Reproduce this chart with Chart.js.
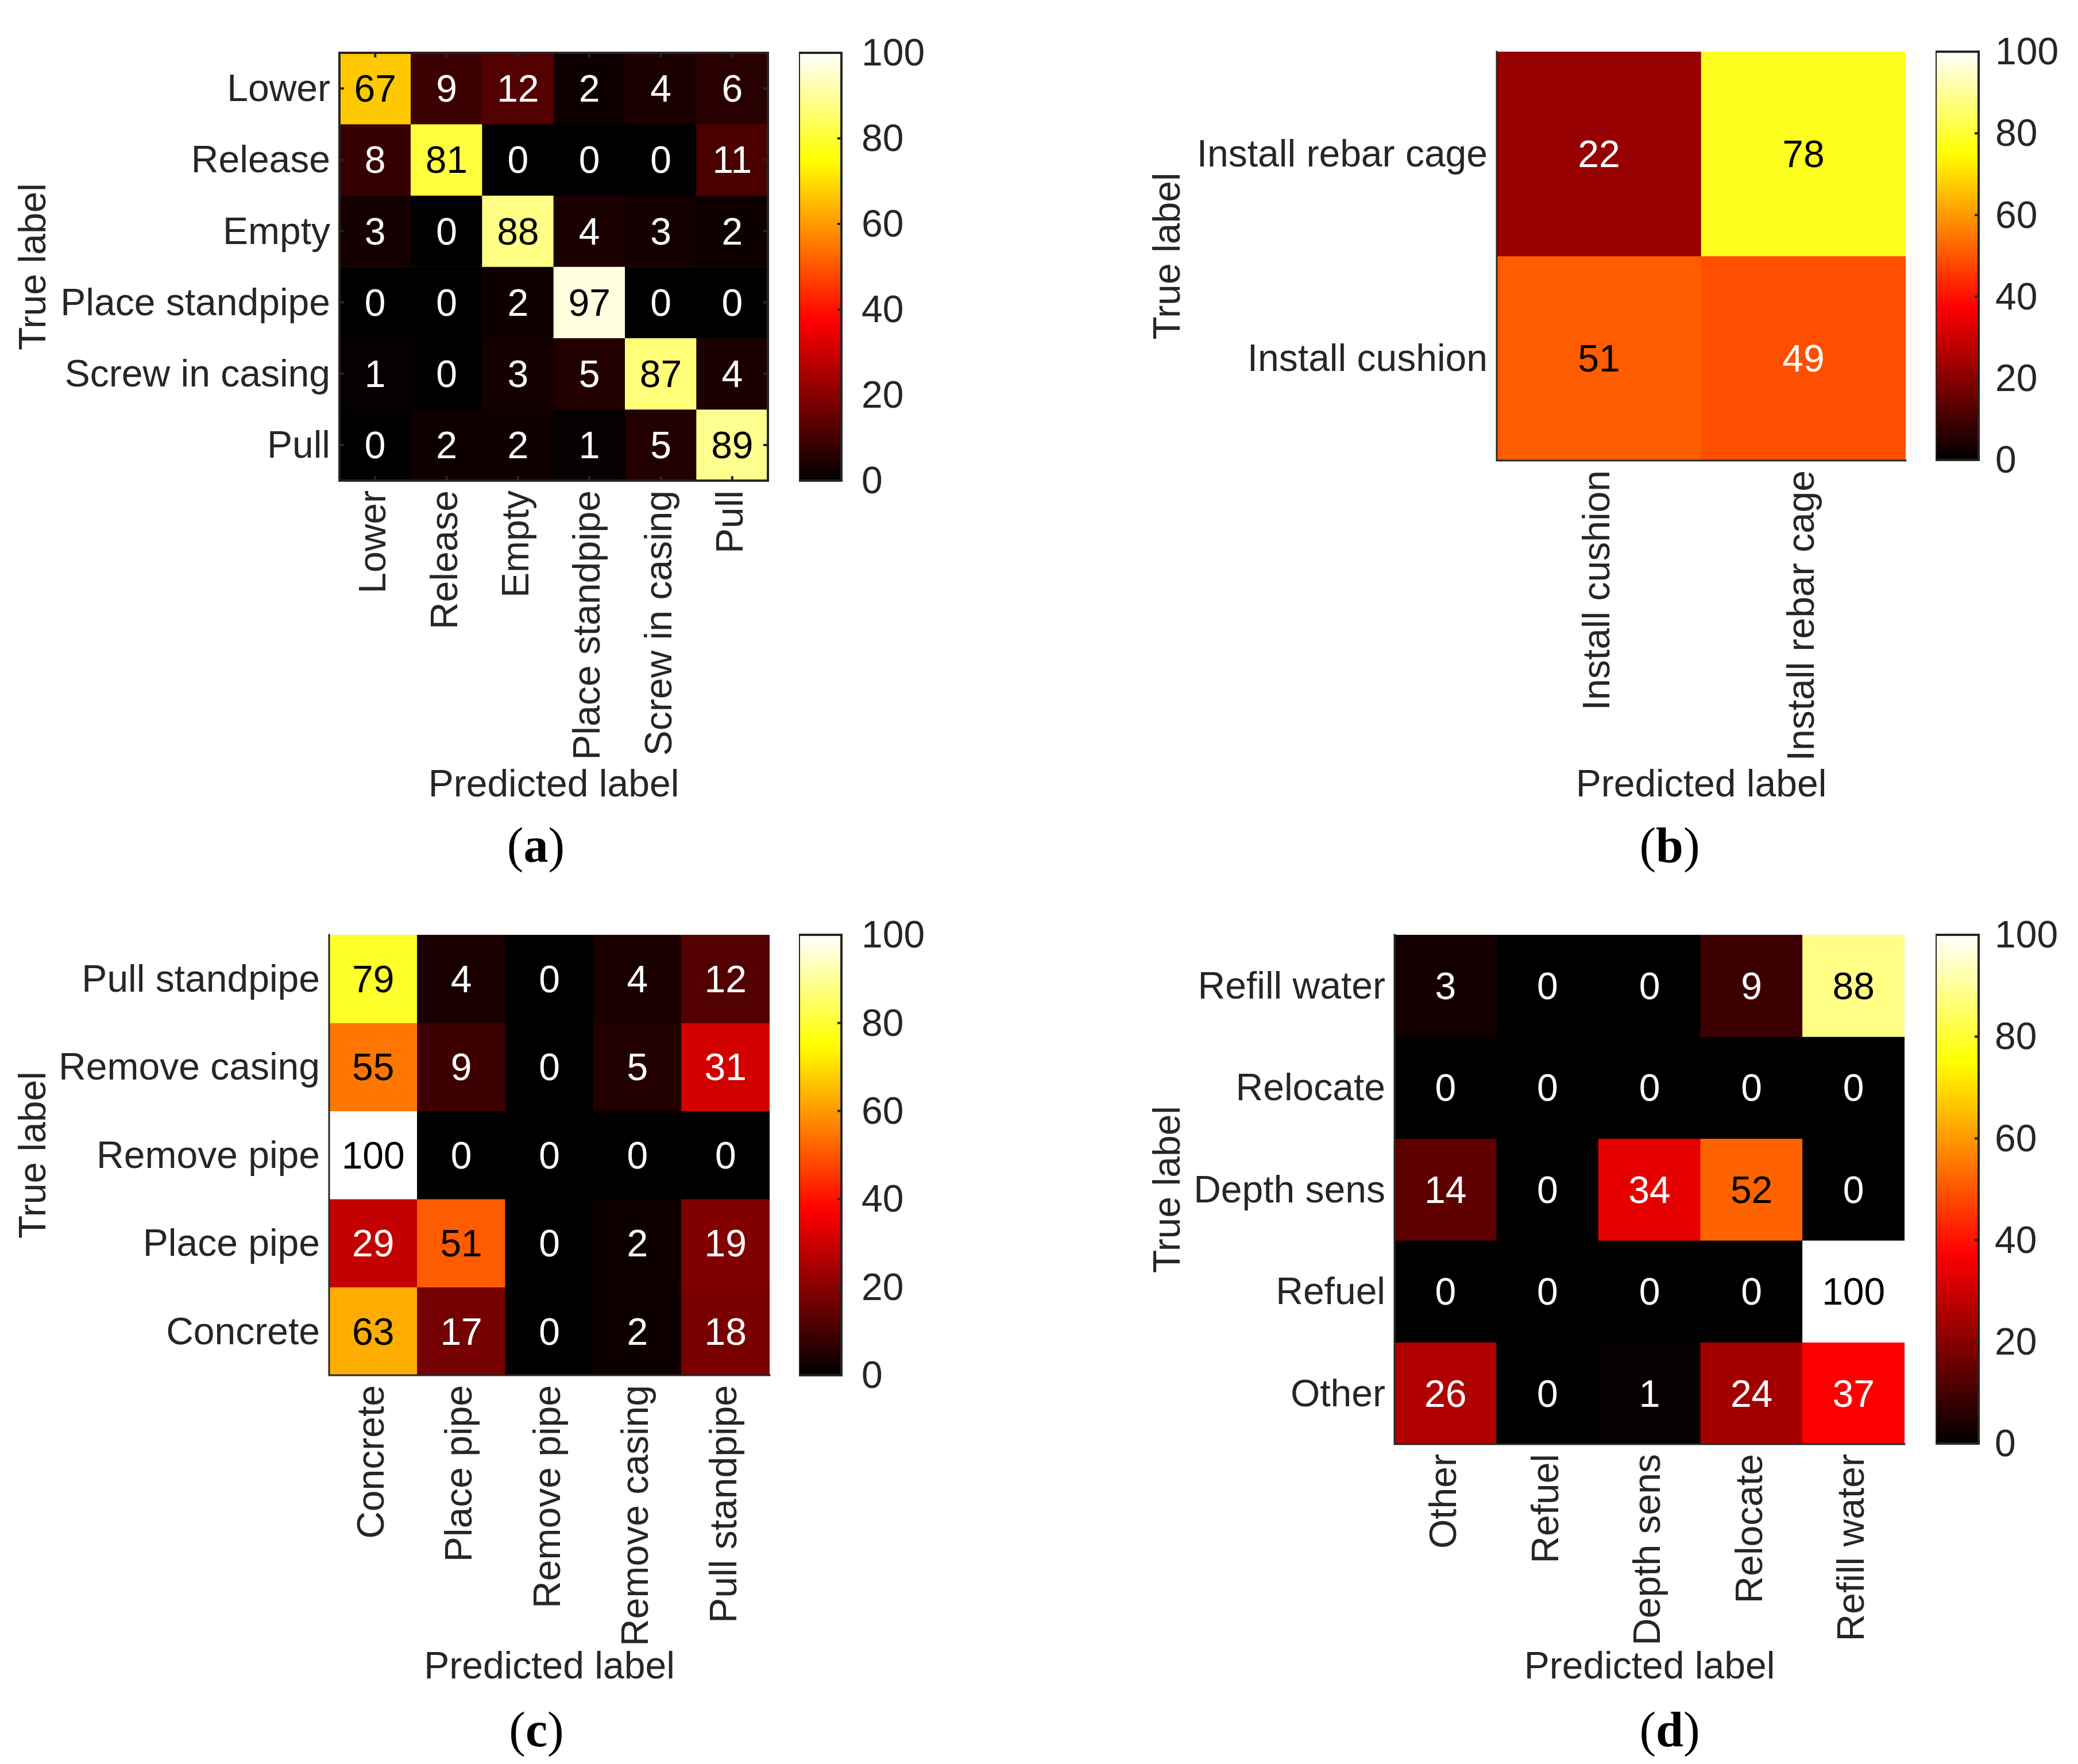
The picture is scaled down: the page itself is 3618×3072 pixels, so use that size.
<!DOCTYPE html>
<html>
<head>
<meta charset="utf-8">
<script src="https://cdn.jsdelivr.net/npm/chart.js@4.4.1/dist/chart.umd.min.js"></script>
<style>
  html, body { margin: 0; padding: 0; background: #ffffff; }
  body { width: 3618px; height: 3072px; position: relative; overflow: hidden; }
  canvas { position: absolute; }
  .cap { position: absolute; font-family: "Liberation Serif", "Times New Roman", serif; font-size: 86px;
         line-height: 1; color: #000; transform: translate(-50%, -50%); white-space: nowrap; }
</style>
</head>
<body>
<canvas id="mA"></canvas><canvas id="cbA"></canvas>
<canvas id="mB"></canvas><canvas id="cbB"></canvas>
<canvas id="mC"></canvas><canvas id="cbC"></canvas>
<canvas id="mD"></canvas><canvas id="cbD"></canvas>
<div class="cap" style="left:933px;top:1472px">(<b>a</b>)</div>
<div class="cap" style="left:2907px;top:1472px">(<b>b</b>)</div>
<div class="cap" style="left:934px;top:3012px">(<b>c</b>)</div>
<div class="cap" style="left:2907px;top:3012px">(<b>d</b>)</div>
<script>
// ---------------- data ----------------
const predA = ['Lower', 'Release', 'Empty', 'Place standpipe', 'Screw in casing', 'Pull'];
const trueA = ['Lower', 'Release', 'Empty', 'Place standpipe', 'Screw in casing', 'Pull'];
const valsA = [
  [67, 9, 12, 2, 4, 6],
  [8, 81, 0, 0, 0, 11],
  [3, 0, 88, 4, 3, 2],
  [0, 0, 2, 97, 0, 0],
  [1, 0, 3, 5, 87, 4],
  [0, 2, 2, 1, 5, 89]
];

const predB = ['Install cushion', 'Install rebar cage'];
const trueB = ['Install rebar cage', 'Install cushion'];
const valsB = [
  [22, 78],
  [51, 49]
];

const predC = ['Concrete', 'Place pipe', 'Remove pipe', 'Remove casing', 'Pull standpipe'];
const trueC = ['Pull standpipe', 'Remove casing', 'Remove pipe', 'Place pipe', 'Concrete'];
const valsC = [
  [79, 4, 0, 4, 12],
  [55, 9, 0, 5, 31],
  [100, 0, 0, 0, 0],
  [29, 51, 0, 2, 19],
  [63, 17, 0, 2, 18]
];

const predD = ['Other', 'Refuel', 'Depth sens', 'Relocate', 'Refill water'];
const trueD = ['Refill water', 'Relocate', 'Depth sens', 'Refuel', 'Other'];
const valsD = [
  [3, 0, 0, 9, 88],
  [0, 0, 0, 0, 0],
  [14, 0, 34, 52, 0],
  [0, 0, 0, 0, 100],
  [26, 0, 1, 24, 37]
];

const colorRange = [0, 100];
const colorbarTicks = [0, 20, 40, 60, 80, 100];

// ---------------- styling helpers ----------------
const FONT = '"Liberation Sans", Arial, Helvetica, sans-serif';
const TXT = '#262626';
const FSIZE = 66;
const TEXT_DY = 4;

function hot(v) {
  const t = Math.max(0, Math.min(1, (v - colorRange[0]) / (colorRange[1] - colorRange[0])));
  const r = Math.min(1, t / 0.375);
  const g = Math.max(0, Math.min(1, (t - 0.375) / 0.375));
  const b = Math.max(0, Math.min(1, (t - 0.75) / 0.25));
  return 'rgb(' + Math.round(r * 255) + ',' + Math.round(g * 255) + ',' + Math.round(b * 255) + ')';
}

const framePlugin = {
  id: 'frame',
  afterDraw(chart, args, opts) {
    const { ctx, chartArea: a } = chart;
    ctx.save();
    ctx.strokeStyle = TXT;
    ctx.lineWidth = opts.width;
    ctx.lineCap = 'square';
    ctx.beginPath();
    const s = opts.sides || [];
    if (s.includes('top')) { ctx.moveTo(a.left, a.top); ctx.lineTo(a.right, a.top); }
    if (s.includes('bottom')) { ctx.moveTo(a.left, a.bottom); ctx.lineTo(a.right, a.bottom); }
    if (s.includes('left')) { ctx.moveTo(a.left, a.top); ctx.lineTo(a.left, a.bottom); }
    if (s.includes('right')) { ctx.moveTo(a.right, a.top); ctx.lineTo(a.right, a.bottom); }
    ctx.stroke();
    const tk = opts.ticks || {};
    const len = opts.tickLen || 8;
    ctx.lineCap = 'butt';
    ctx.beginPath();
    Object.keys(tk).forEach(side => {
      const sc = chart.scales[tk[side]];
      sc.ticks.forEach((t, i) => {
        const p = sc.getPixelForTick(i);
        if (side === 'top') { ctx.moveTo(p, a.top); ctx.lineTo(p, a.top + len); }
        if (side === 'bottom') { ctx.moveTo(p, a.bottom); ctx.lineTo(p, a.bottom - len); }
        if (side === 'left') { ctx.moveTo(a.left, p); ctx.lineTo(a.left + len, p); }
        if (side === 'right') { ctx.moveTo(a.right, p); ctx.lineTo(a.right - len, p); }
      });
    });
    ctx.stroke();
    ctx.restore();
  }
};

const cellTextPlugin = {
  id: 'cellText',
  afterDatasetsDraw(chart, args, opts) {
    if (!opts.on) return;
    const ctx = chart.ctx;
    ctx.save();
    ctx.font = FSIZE + 'px ' + FONT;
    ctx.textAlign = 'center';
    ctx.textBaseline = 'middle';
    chart.data.datasets.forEach((ds, r) => {
      const meta = chart.getDatasetMeta(r);
      meta.data.forEach((el, c) => {
        const v = ds.cellValues[c];
        const p = el.getProps(['x', 'y', 'base'], true);
        ctx.fillStyle = v > 50 ? '#000000' : '#ffffff';
        ctx.fillText(String(v), p.x, (p.y + p.base) / 2 + TEXT_DY + 1);
      });
    });
    ctx.restore();
  }
};

function place(id, g) {
  const cv = document.getElementById(id);
  cv.width = g.w; cv.height = g.h;
  cv.style.left = g.x + 'px'; cv.style.top = g.y + 'px';
  cv.style.width = g.w + 'px'; cv.style.height = g.h + 'px';
  return cv;
}

const tickFont = { family: FONT, size: FSIZE, lineHeight: 1 };

function matrixChart(id, g, pred, trueL, vals, frame) {
  const cv = place(id, g);
  const datasets = trueL.map((lab, r) => ({
    label: lab,
    data: vals[r].map(() => [r, r + 1]),
    cellValues: vals[r],
    backgroundColor: vals[r].map(hot),
    borderWidth: 0,
    grouped: false,
    barPercentage: 1,
    categoryPercentage: 1
  }));
  return new Chart(cv, {
    type: 'bar',
    data: { labels: pred, datasets: datasets },
    plugins: [framePlugin, cellTextPlugin],
    options: {
      responsive: false,
      animation: false,
      devicePixelRatio: 1,
      layout: { padding: { left: 0, top: g.padTop, right: g.padRight, bottom: 0 } },
      plugins: {
        legend: { display: false },
        tooltip: { enabled: false },
        frame: frame,
        cellText: { on: true }
      },
      scales: {
        x: {
          type: 'category',
          offset: true,
          grid: { display: false, drawTicks: false },
          border: { display: false },
          ticks: { color: TXT, font: tickFont, minRotation: 90, maxRotation: 90, autoSkip: false, padding: 17 },
          title: { display: true, text: 'Predicted label', color: TXT, font: tickFont,
                   padding: { top: 0, bottom: g.xTitlePad } },
          afterFit: (s) => { s.height = g.xAxisH; }
        },
        y: {
          type: 'linear',
          min: 0,
          max: trueL.length,
          reverse: true,
          grid: { display: false, drawTicks: false },
          border: { display: false },
          afterBuildTicks: (s) => { s.ticks = trueL.map((_, i) => ({ value: i + 0.5 })); },
          ticks: { color: TXT, font: tickFont, autoSkip: false, padding: 16, labelOffset: TEXT_DY,
                   callback: (v) => trueL[Math.floor(v)] },
          title: { display: true, text: 'True label', color: TXT, font: tickFont,
                   padding: { top: g.yTitlePad, bottom: 0 } },
          afterFit: (s) => { s.width = g.yAxisW; }
        }
      }
    }
  });
}

function colorbarChart(id, g) {
  const cv = place(id, g);
  return new Chart(cv, {
    type: 'bar',
    data: {
      labels: ['colorbar'],
      datasets: [{
        data: [[colorRange[0], colorRange[1]]],
        backgroundColor: (c) => {
          const ch = c.chart;
          const a = ch.chartArea;
          if (!a) return '#000';
          const grad = ch.ctx.createLinearGradient(0, a.bottom, 0, a.top);
          grad.addColorStop(0, hot(colorRange[0]));
          grad.addColorStop(0.375, hot(37.5));
          grad.addColorStop(0.75, hot(75));
          grad.addColorStop(1, hot(colorRange[1]));
          return grad;
        },
        borderWidth: 0,
        barPercentage: 1,
        categoryPercentage: 1
      }]
    },
    plugins: [framePlugin],
    options: {
      responsive: false,
      animation: false,
      devicePixelRatio: 1,
      layout: { padding: { left: 0, right: 0, top: 80, bottom: 80 } },
      plugins: {
        legend: { display: false },
        tooltip: { enabled: false },
        frame: { sides: ['top', 'right', 'bottom', 'left'], width: 4, ticks: { right: 'y' }, tickLen: 7 }
      },
      scales: {
        x: { display: false, offset: true },
        y: {
          position: 'right',
          min: colorRange[0],
          max: colorRange[1],
          grid: { display: false, drawTicks: false },
          border: { display: false },
          afterBuildTicks: (s) => { s.ticks = colorbarTicks.map(v => ({ value: v })); },
          ticks: { color: TXT, font: tickFont, padding: g.labPad, autoSkip: false, labelOffset: TEXT_DY },
          afterFit: (s) => { s.width = g.axisW; }
        }
      }
    }
  });
}

// ---------------- panels ----------------
matrixChart('mA', { x: 0, y: 0, w: 1390, h: 1420, padTop: 92, padRight: 53, yAxisW: 591, xAxisH: 583, xTitlePad: 18, yTitlePad: 28 },
  predA, trueA, valsA,
  { sides: ['top', 'right', 'bottom', 'left'], width: 4, ticks: { top: 'x', bottom: 'x', left: 'y', right: 'y' }, tickLen: 8 });
colorbarChart('cbA', { x: 1391, y: 12, w: 274, h: 905, axisW: 200, labPad: 35 });

matrixChart('mB', { x: 1900, y: 0, w: 1460, h: 1420, padTop: 90, padRight: 42, yAxisW: 706, xAxisH: 618, xTitlePad: 18, yTitlePad: 103 },
  predB, trueB, valsB,
  { sides: ['bottom', 'left'], width: 3 });
colorbarChart('cbB', { x: 3370, y: 10, w: 245, h: 871, axisW: 170, labPad: 29 });

matrixChart('mC', { x: 0, y: 1540, w: 1390, h: 1420, padTop: 88, padRight: 50, yAxisW: 573, xAxisH: 565, xTitlePad: 22, yTitlePad: 28 },
  predC, trueC, valsC,
  { sides: ['bottom', 'left'], width: 3 });
colorbarChart('cbC', { x: 1391, y: 1548, w: 274, h: 927, axisW: 200, labPad: 35 });

matrixChart('mD', { x: 1900, y: 1540, w: 1460, h: 1420, padTop: 88, padRight: 44, yAxisW: 528, xAxisH: 445, xTitlePad: 22, yTitlePad: 103 },
  predD, trueD, valsD,
  { sides: ['bottom', 'left'], width: 3 });
colorbarChart('cbD', { x: 3370, y: 1548, w: 245, h: 1046, axisW: 170, labPad: 28 });
</script>
</body>
</html>
